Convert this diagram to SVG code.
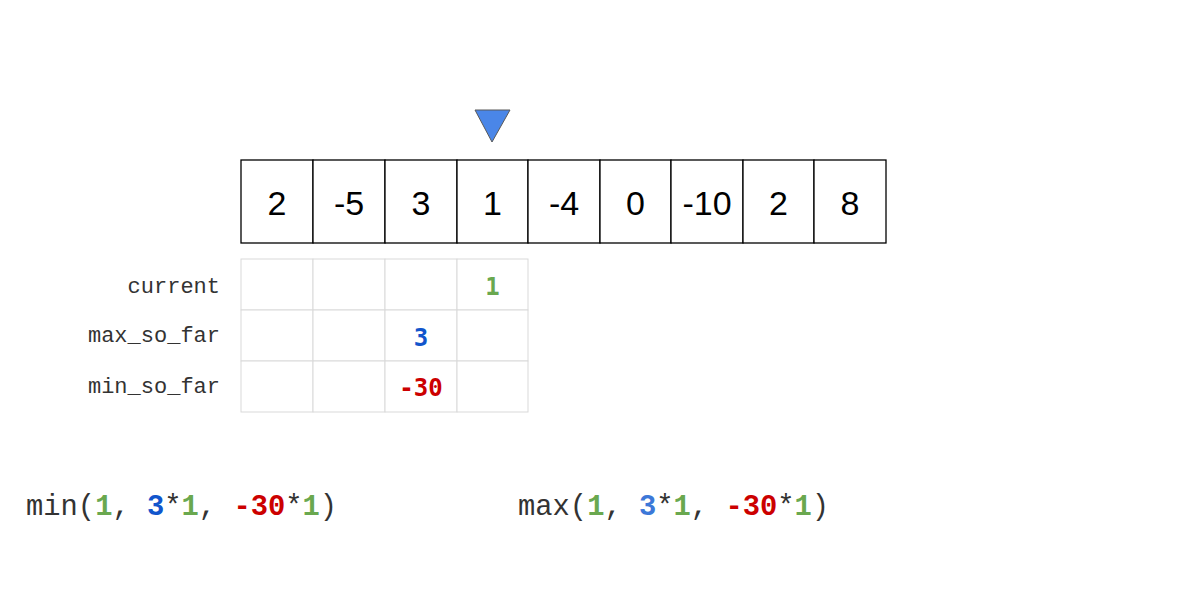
<svg xmlns="http://www.w3.org/2000/svg" width="1200" height="600" viewBox="0 0 1200 600">
<style>
.cell{fill:#ffffff;stroke:#000000;stroke-width:1.3}
.num{font-family:"Liberation Sans",Arial,sans-serif;font-size:34px;fill:#000000;text-anchor:middle}
.grid{fill:#ffffff;stroke:#d9d9d9;stroke-width:1}
.lbl{font-family:"Liberation Mono","Courier New",monospace;font-size:22px;fill:#333333;text-anchor:end}
.val{font-family:"DejaVu Sans Mono","Liberation Mono",monospace;font-weight:bold;font-size:24px;text-anchor:middle}
.expr{font-family:"Liberation Mono","Courier New",monospace;font-size:28.8px;fill:#333333}
.b{font-weight:bold}
.g{fill:#6aa84f}.bl{fill:#1155cc}.bl2{fill:#3c78d8}.r{fill:#cc0000}
</style>
<g id="pointer">
<polygon points="475,110 510,110 492,142" fill="#4a86e8" stroke="#595959" stroke-width="1"/>
</g>
<g id="array">
<rect class="cell" x="241" y="160" width="72" height="83"/>
<rect class="cell" x="313" y="160" width="72" height="83"/>
<rect class="cell" x="385" y="160" width="72" height="83"/>
<rect class="cell" x="457" y="160" width="71" height="83"/>
<rect class="cell" x="528" y="160" width="72" height="83"/>
<rect class="cell" x="600" y="160" width="71" height="83"/>
<rect class="cell" x="671" y="160" width="72" height="83"/>
<rect class="cell" x="743" y="160" width="71" height="83"/>
<rect class="cell" x="814" y="160" width="72" height="83"/>
<text class="num" x="277" y="215">2</text>
<text class="num" x="349" y="215">-5</text>
<text class="num" x="421" y="215">3</text>
<text class="num" x="492.5" y="215">1</text>
<text class="num" x="564" y="215">-4</text>
<text class="num" x="635.5" y="215">0</text>
<text class="num" x="707" y="215">-10</text>
<text class="num" x="778.5" y="215">2</text>
<text class="num" x="850" y="215">8</text>
</g>
<g id="table">
<rect class="grid" x="241" y="259" width="72" height="51"/>
<rect class="grid" x="313" y="259" width="72" height="51"/>
<rect class="grid" x="385" y="259" width="72" height="51"/>
<rect class="grid" x="457" y="259" width="71" height="51"/>
<rect class="grid" x="241" y="310" width="72" height="51"/>
<rect class="grid" x="313" y="310" width="72" height="51"/>
<rect class="grid" x="385" y="310" width="72" height="51"/>
<rect class="grid" x="457" y="310" width="71" height="51"/>
<rect class="grid" x="241" y="361" width="72" height="51"/>
<rect class="grid" x="313" y="361" width="72" height="51"/>
<rect class="grid" x="385" y="361" width="72" height="51"/>
<rect class="grid" x="457" y="361" width="71" height="51"/>
<text class="lbl" x="220" y="293">current</text>
<text class="lbl" x="220" y="342">max_so_far</text>
<text class="lbl" x="220" y="393">min_so_far</text>
<text class="val g" x="492.5" y="295">1</text>
<text class="val bl" x="421" y="346">3</text>
<text class="val r" x="421" y="396">-30</text>
</g>
<g id="min-expr">
<text class="expr" x="26" y="515">min(<tspan class="b g">1</tspan>, <tspan class="b bl">3</tspan>*<tspan class="b g">1</tspan>, <tspan class="b r">-30</tspan>*<tspan class="b g">1</tspan>)</text>
</g>
<g id="max-expr">
<text class="expr" x="518" y="515">max(<tspan class="b g">1</tspan>, <tspan class="b bl2">3</tspan>*<tspan class="b g">1</tspan>, <tspan class="b r">-30</tspan>*<tspan class="b g">1</tspan>)</text>
</g>
</svg>
